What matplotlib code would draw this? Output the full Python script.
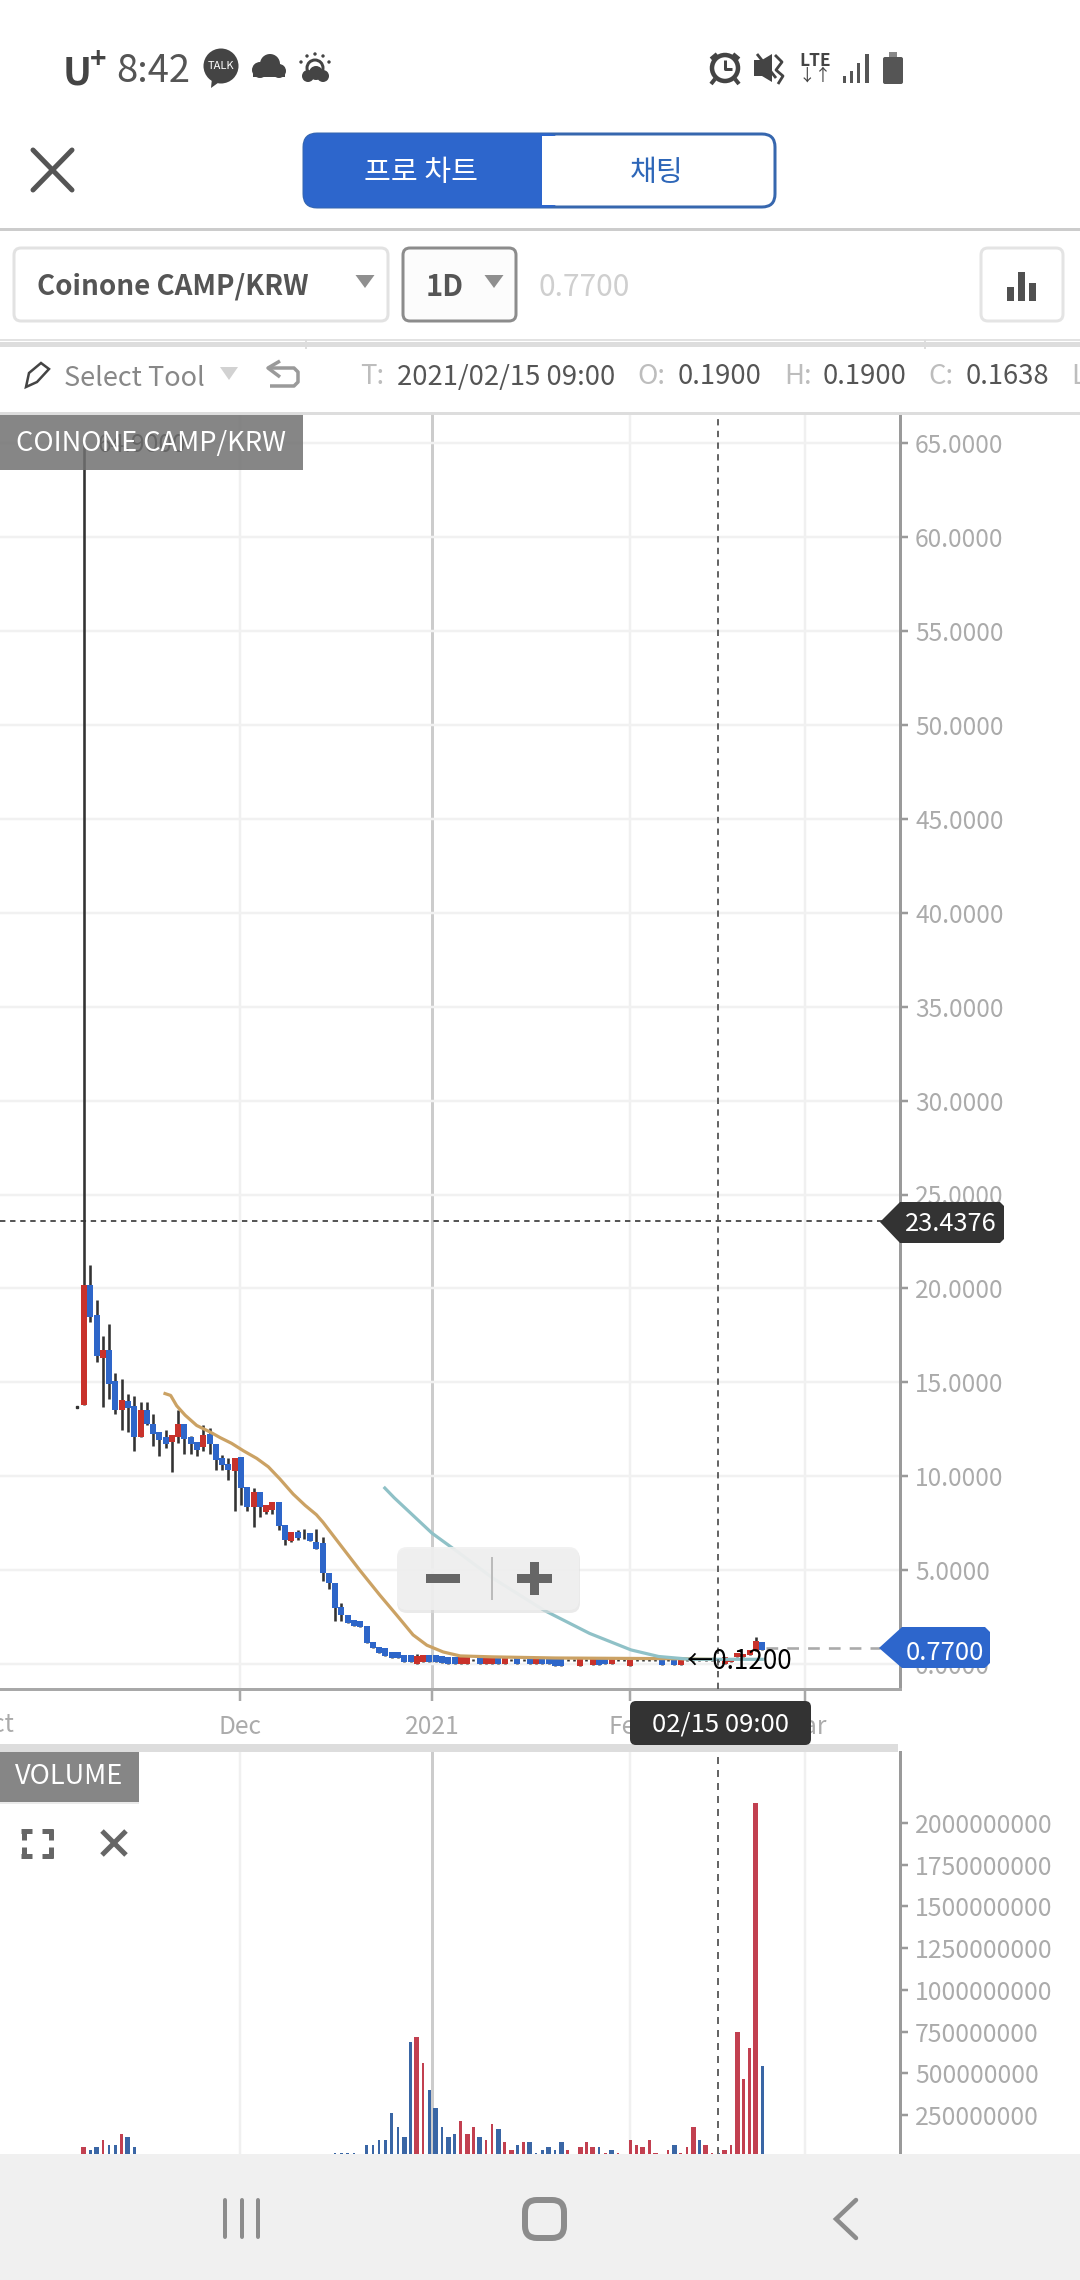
import matplotlib
matplotlib.use("Agg")
import matplotlib.pyplot as plt
from matplotlib.patches import Rectangle, FancyBboxPatch, Circle, Polygon
from matplotlib.transforms import blended_transform_factory

plt.rcParams['font.family'] = ['Noto Sans CJK KR', 'DejaVu Sans']

# ---------- data ----------
opens = [13.8,20.2,18.6,16.3,16.7,15.05,13.5,14.0,13.75,12.1,13.5,12.8,12.35,12.1,11.8,12.1,12.8,12.1,11.8,11.55,
         12.25,11.7,10.95,10.65,10.3,11.0,9.45,8.35,9.15,8.1,8.2,8.6,7.4,6.55,7.05,6.9,7.0,6.5,6.45,4.85,
         4.3,3.05,2.6,2.35,2.3,2.0,1.15,0.9,0.85,0.65,0.65,0.5,0.5,0.0,0.1,0.5,0.5,0.4,0.37,0.37,
         0.0,0.0,0.2,0.37,0.0,0.0,0.37,0.0,0.2,0.37,0.2,0.37,0.0,0.37,0.37,0.3,0.3,0.2,0.2,-0.1,
         0.2,-0.05,0.32,0.3,0.0,0.2,0.2,-0.08,0.2,0.2,0.2,0.2,0.3,0.2,0.3,-0.05,0.2,0.2,0.2,0.2,
         0.2,0.19,0.0,0.1,0.37,0.37,0.48,0.7,1.17]
closes = [20.2,18.5,16.4,16.7,14.9,13.5,14.05,13.65,12.1,13.5,12.8,12.25,11.95,11.7,12.2,12.8,12.0,11.7,11.4,12.2,
          11.7,10.85,10.6,10.35,10.95,9.35,8.35,9.15,8.35,8.45,8.6,7.35,6.6,7.05,6.7,6.9,6.55,6.15,4.85,4.3,
          3.0,2.6,2.2,2.0,1.95,1.1,0.85,0.6,0.45,0.3,0.3,0.1,0.1,0.45,0.5,0.1,0.1,0.05,0.0,0.0,
          0.37,0.37,0.2,0.0,0.37,0.37,0.0,0.37,0.2,0.0,0.2,0.0,0.37,0.0,0.0,-0.12,-0.12,0.2,0.2,0.3,
          0.2,0.32,-0.05,0.0,0.35,0.2,0.2,0.3,0.2,0.2,0.2,0.2,-0.05,0.2,-0.05,0.3,0.2,0.2,0.2,0.2,
          0.2,0.1638,0.37,0.3,0.6,0.55,0.75,1.2,0.77]
highs = [65.2,21.25,19.4,17.45,18.1,15.5,15.2,14.4,14.25,13.95,13.95,13.3,12.35,12.45,12.2,13.55,12.8,12.15,11.8,12.7,
         12.55,11.7,11.15,10.95,10.95,11.0,9.45,9.35,9.15,8.45,8.6,8.6,7.4,7.05,7.15,7.2,7.0,7.2,6.75,4.85,
         4.3,3.25,2.6,2.35,2.3,2.0,1.15,0.9,0.85,0.65,0.65,0.5,0.5,0.55,0.5,0.5,0.5,0.4,0.37,0.37,
         0.37,0.37,0.27,0.37,0.37,0.37,0.37,0.37,0.27,0.37,0.27,0.37,0.37,0.37,0.37,0.3,0.3,0.27,0.27,0.3,
         0.27,0.32,0.32,0.3,0.35,0.27,0.27,0.3,0.27,0.27,0.27,0.27,0.3,0.27,0.3,0.3,0.27,0.27,0.27,0.27,
         0.27,0.19,0.37,0.3,0.6,0.55,0.75,1.43,1.17]
lows = [13.8,18.2,16.1,13.7,14.1,13.3,12.45,12.35,11.35,12.1,12.75,11.6,11.05,11.5,10.25,11.75,11.2,11.2,11.05,11.35,
        11.2,10.35,10.35,9.8,8.15,8.45,8.15,7.3,7.85,8.0,8.0,7.15,6.35,6.5,6.6,6.65,6.55,6.15,4.4,4.0,
        2.3,2.3,2.2,2.0,1.95,1.1,0.85,0.6,0.45,0.3,0.3,0.1,0.1,0.0,0.1,0.1,0.1,0.05,0.0,0.0,
        0.0,0.0,0.15,0.0,0.0,0.0,0.0,0.0,0.15,0.0,0.15,0.0,0.0,0.0,0.0,-0.12,-0.12,0.15,0.15,-0.1,
        0.15,-0.05,-0.05,0.0,0.0,0.15,0.15,-0.08,0.15,0.15,0.15,0.15,-0.05,0.15,-0.05,-0.05,0.15,0.15,0.15,0.15,
        0.15,0.12,0.0,0.1,0.37,0.37,0.48,0.7,0.77]
first_dash_day = -1.1
first_dash_price = 13.7

ma_short_day = [12.9,13.8,14.76,16.1,17.95,20.1,21.7,23.5,25.4,27.5,29.35,31.2,33.3,35.2,37,38.05,40.8,43.9,47.1,49.8,52.4,54.6,57.2,59.9,65,75,85,95,100]
ma_short_val = [14.4,14.3,13.75,13.25,12.7,12.35,12.05,11.75,11.35,10.95,10.5,9.85,9.05,8.45,7.95,7.55,6.35,5.0,3.67,2.6,1.55,1.0,0.64,0.43,0.38,0.32,0.3,0.28,0.25]
ma_long_day = [47.9,49.4,55.4,60,65.1,73.2,80.5,87.1,91.5,96.6,108]
ma_long_val = [9.37,8.85,6.97,5.85,4.57,2.87,1.63,0.75,0.4,0.25,0.25]

volume_m = [56,40,56,100,70,70,134,118,56,0,0,0,0,0,0,0,0,0,0,0,
            0,0,0,0,0,0,0,0,0,0,0,0,0,0,0,0,0,0,0,0,
            24,24,24,24,0,70,70,100,100,260,180,118,685,717,560,400,290,180,118,134,
            212,134,180,118,100,196,164,86,40,70,86,86,24,40,56,40,86,40,0,56,
            86,56,56,24,40,24,0,100,70,56,100,24,0,40,70,24,56,180,100,70,
            24,24,40,70,747,464,654,2120,544]
volume_up_days = [0,3,6,53,54,60,61,62,64,65,67,68,70,77,79,80,81,83,85,87,88,89,90,91,93,95,96,97,99,100,102,103,104,105,106,107]
volume_wide_days = [0,2,7,51,53,56,58,61,63,66,68,71,74,76,79,81,84,89,91,94,97,99,102,104,107]

price_ticks = [0,5,10,15,20,25,30,35,40,45,50,55,60,65]
price_tick_labels = ['0.0000','5.0000','10.0000','15.0000','20.0000','25.0000','30.0000','35.0000','40.0000','45.0000','50.0000','55.0000','60.0000','65.0000']
volume_ticks_m = [250,500,750,1000,1250,1500,1750,2000]
date_ticks = [24.84,55.4,86.9,114.8]
date_labels = ['Dec','2021','Feb','Mar']
clipped_date_tick = -14.2
clipped_date_label = 'Oct'
crosshair_day = 100.9
crosshair_price = 23.6
crosshair_label = '23.4376'
last_price = 0.87
last_label = '0.7700'

# ---------- layout constants ----------
W, H = 1080, 2280
PX_DAY0, PX_PER_DAY = 84.0, 6.28
P_TOP, P_BOT = 415, 1689
V_TOP, V_BOT = 1752, 2154
AX_R = 900
PY0, PPU = 1664.0, 18.78
VY0, VPM = 2156.7, 1/5.995
GREY_T = '#ababab'
C_UP, C_DN, C_WICK = '#c8322b', '#2e66c9', '#333333'
V_UP, V_DN = '#c24050', '#3a66a5'
TICK_SIZE = 17.7
XLIM = ((0-PX_DAY0)/PX_PER_DAY, (AX_R-PX_DAY0)/PX_PER_DAY)

def lw(px):
    return px * 0.72

fig = plt.figure(figsize=(W/100, H/100), dpi=100, facecolor='white')

def make_ax(top, bot):
    a = fig.add_axes([0, 1-bot/H, AX_R/W, (bot-top)/H])
    a.set_xlim(*XLIM)
    a.set_facecolor('white')
    for s in ('left', 'top'):
        a.spines[s].set_visible(False)
    a.spines['right'].set_color('#9a9a9a')
    a.spines['right'].set_linewidth(lw(3))
    a.yaxis.tick_right()
    a.tick_params(axis='y', length=lw(8), width=lw(2.5), color='#9a9a9a', labelcolor=GREY_T,
                  labelsize=TICK_SIZE, pad=lw(7))
    return a

def vgrid(a):
    for d, lab in zip(date_ticks, date_labels):
        a.axvline(d, color='#cccccc' if lab == '2021' else '#f0f0f0', lw=lw(3 if lab == '2021' else 2.5), zorder=0.5)

# ---------- price ----------
ax = make_ax(P_TOP, P_BOT)
ax.set_ylim((PY0-P_BOT)/PPU, (PY0-P_TOP)/PPU)
ax.set_yticks(price_ticks)
ax.set_yticklabels(price_tick_labels)
ax.grid(axis='y', color='#f1f1f1', lw=lw(2.5), zorder=0.4)
ax.set_axisbelow(True)
vgrid(ax)
ax.spines['bottom'].set_color('#a8a8a8')
ax.spines['bottom'].set_linewidth(lw(3))
ax.set_xticks(date_ticks)
ax.set_xticklabels(date_labels)
ax.set_xlim(*XLIM)
ax.tick_params(axis='x', length=lw(12), width=lw(2.5), color='#a8a8a8', labelcolor=GREY_T,
               labelsize=TICK_SIZE, pad=lw(13))
ax.text(clipped_date_tick, -0.0285, clipped_date_label, transform=blended_transform_factory(ax.transData, ax.transAxes),
        fontsize=TICK_SIZE, color=GREY_T, ha='center', va='center', clip_on=False)
ax.axhline(crosshair_price, color='#444444', lw=lw(1.8), dashes=(3, 2.6), zorder=1)
ax.axvline(crosshair_day, color='#555555', lw=lw(1.8), dashes=(3.5, 3), zorder=6)

days = list(range(len(opens)))
ax.vlines(days, lows, highs, color=C_WICK, lw=lw(2.6), zorder=2)
for d, o, c in zip(days, opens, closes):
    if o != c:
        ax.bar(d, abs(c-o), bottom=min(o, c), width=0.95, color=C_UP if c > o else C_DN, zorder=3, linewidth=0)
ax.plot(first_dash_day, first_dash_price, marker='s', ms=lw(2.5), color=C_WICK, zorder=2)
ax.plot(ma_short_day, ma_short_val, color='#cba264', lw=lw(3.2), zorder=4, solid_joinstyle='round')
ax.plot(ma_long_day, ma_long_val, color='#8fc1c7', lw=lw(3.2), zorder=4.2, solid_joinstyle='round')
ax.text(95.8, 0.12, '←0.1200', fontsize=18.9, color='black', va='center', ha='left', zorder=7, clip_on=False)
ax.text(2.2, 64.9, '64.9000', fontsize=TICK_SIZE, color='#222222', va='center', ha='left', zorder=7)
ax.plot([108.6, (880-PX_DAY0)/PX_PER_DAY], [last_price]*2, color='#aaaaaa', lw=lw(2.6), dashes=(4.5, 3.5), zorder=5)

# ---------- volume ----------
vx = make_ax(V_TOP, V_BOT)
vx.set_ylim((VY0-V_BOT)/VPM, (VY0-V_TOP)/VPM)
vx.set_yticks(volume_ticks_m)
vx.set_yticklabels([f'{v*1000000}' for v in volume_ticks_m])
vx.tick_params(axis='y', labelsize=17.9)
vx.spines['bottom'].set_visible(False)
vx.set_xticks([])
vgrid(vx)
vx.axvline(crosshair_day, color='#666666', lw=lw(2), dashes=(3.5, 3), zorder=6)
for d, v in enumerate(volume_m):
    if v > 0:
        wide = d in volume_wide_days
        vx.bar(d, v, width=(5.0 if wide else 2.6)/PX_PER_DAY, color=V_UP if d in volume_up_days else V_DN, zorder=3, linewidth=0)
vx.set_xlim(*XLIM)

# ---------- screen chrome overlay ----------
ov = fig.add_axes([0, 0, 1, 1], zorder=10)
ov.set_xlim(0, W)
ov.set_ylim(H, 0)
ov.axis('off')
ov.patch.set_alpha(0)

def T(x, y, s, size, color='#555555', ha='left', va='center', **k):
    return ov.text(x, y, s, fontsize=size, color=color, ha=ha, va=va, **k)

def R(x0, y0, x1, y1, fc, **k):
    ov.add_patch(Rectangle((x0, y0), x1-x0, y1-y0, facecolor=fc, edgecolor='none', **k))

def RR(x0, y0, x1, y1, fc='white', ec='none', r=6, px=0, **k):
    ov.add_patch(FancyBboxPatch((x0+r, y0+r), x1-x0-2*r, y1-y0-2*r, boxstyle=f'round,pad={r},rounding_size={r}',
                                facecolor=fc, edgecolor=ec, linewidth=lw(px), mutation_aspect=1, **k))

def L(xs, ys, c, px, **k):
    ov.plot(xs, ys, color=c, lw=lw(px), solid_capstyle=k.pop('cap', 'butt'), **k)

def tri(x, y0, y1, w, c):
    ov.add_patch(Polygon([(x-w, y0), (x+w, y0), (x, y1)], facecolor=c, edgecolor='none'))

# top white area above chart
R(0, 0, W, P_TOP, 'white')
# status bar
T(63, 73, 'U', 28, '#444444', fontweight='bold')
T(90, 60, '+', 20, '#444444', fontweight='bold')
T(116, 71, '8:42', 27.5, '#555555')
ov.add_patch(Circle((221, 66), 17.5, fc='#444444', ec='none'))
ov.add_patch(Polygon([(212, 78), (222, 80), (211, 88)], fc='#444444', ec='none'))
T(221, 66, 'TALK', 8, 'white', ha='center')
for cx, cy, r in ((260, 70, 8), (270, 64, 10), (279, 71, 7)):
    ov.add_patch(Circle((cx, cy), r, fc='#444444', ec='none'))
R(253, 70, 285, 77, '#444444')
ov.add_patch(Circle((315, 68), 8, fc='white', ec='#444444', lw=lw(3)))
for dx, dy in ((-14, -6), (-8, -12), (0, -14), (8, -12), (14, -6)):
    ov.add_patch(Circle((315+dx, 68+dy), 1.7, fc='#444444', ec='none'))
for cx, cy, r in ((308, 76, 6), (316, 73, 7), (323, 76, 6)):
    ov.add_patch(Circle((cx, cy), r, fc='#444444', ec='none'))
ov.add_patch(Circle((725, 68), 13, fc='white', ec='#444444', lw=lw(4.5)))
L([725, 725, 732], [60, 69, 69], '#444444', 3)
L([711, 717], [59, 54], '#444444', 4)
L([739, 733], [59, 54], '#444444', 4)
L([715, 711], [79, 84], '#444444', 4)
L([735, 739], [79, 84], '#444444', 4)
ov.add_patch(Polygon([(754, 60), (762, 60), (772, 54), (772, 82), (762, 76), (754, 76)], fc='#444444', ec='none'))
L([775, 782, 776, 783, 778], [55, 62, 70, 76, 84], '#444444', 2.8)
L([757, 776], [54, 78], '#444444', 2.8)
T(815, 61, 'LTE', 12.5, '#444444', ha='center', fontweight='bold')
T(815, 76, '↓↑', 12, '#444444', ha='center')
for x, y0, w_ in ((843, 76, 2), (850, 71, 2), (857, 63, 2), (865, 54, 3)):
    R(x, y0, x+w_+1, 83, '#555555')
R(889, 52, 897, 58, '#888888')
RR(883, 57, 903, 84, fc='#555555', r=2)

# close icon
L([33, 72], [150, 190], '#555555', 5, cap='round')
L([72, 33], [150, 190], '#555555', 5, cap='round')

# tab switch
RR(304, 134, 775, 207, fc='white', ec='#3767ae', r=13, px=3)
RR(304, 134, 560, 207, fc='#2d66cc', ec='#2d66cc', r=13, px=1)
R(542, 136, 562, 205, 'white')
T(421, 173, '프로 차트', 21, 'white', ha='center')
T(657, 173, '채팅', 21, '#2d66b8', ha='center')
R(0, 228, W, 231, '#cccccc')

# selector row
RR(14, 248, 388, 321, fc='white', ec='#e2e2e2', r=7, px=3)
T(37, 287, 'Coinone CAMP/KRW', 20, '#555555', fontweight='bold')
tri(365, 275, 288, 9.5, '#8f8f8f')
RR(403, 248, 516, 321, fc='#fcfcfc', ec='#8c8c8c', r=7, px=3)
T(426, 287, '1D', 21, '#555555', fontweight='bold')
tri(494, 275, 288, 9.5, '#8f8f8f')
T(539, 288, '0.7700', 21.5, '#cfcfcf')
RR(981, 248, 1063, 321, fc='white', ec='#e4e4e4', r=7, px=3)
R(1007, 287, 1014, 301, '#505050')
R(1018, 272, 1025, 301, '#505050')
R(1029, 283, 1036, 301, '#505050')
R(0, 339, W, 341, '#e2e2e2')
R(0, 342, W, 347, '#dddddd')
R(305, 340, 307, 349, '#dddddd')
R(924, 340, 926, 349, '#dddddd')

# toolbar row
ov.add_patch(Polygon([(26, 387), (29, 373), (41, 363), (49, 369), (37, 382)], fc='white', ec='#444444', lw=lw(2.5)))
T(64, 379, 'Select Tool', 19.5, '#888888')
tri(229, 367, 380, 9, '#d2d2d2')
L([270, 294, 298, 298, 294, 270], [368, 368, 372, 382, 386, 386], '#9a9a9a', 3.5)
L([280, 268, 280], [361, 368, 377], '#9a9a9a', 3.5)
ROW_Y = 377
T(360, ROW_Y, 'T:', 19.8, '#bdbdbd')
T(397, ROW_Y, '2021/02/15 09:00', 19.8, '#555555')
T(637, ROW_Y, 'O:', 19.8, '#bdbdbd')
T(678, ROW_Y, '0.1900', 19.8, '#555555')
T(784, ROW_Y, 'H:', 19.8, '#bdbdbd')
T(823, ROW_Y, '0.1900', 19.8, '#555555')
T(928, ROW_Y, 'C:', 19.8, '#bdbdbd')
T(966, ROW_Y, '0.1638', 19.8, '#555555')
T(1071, ROW_Y, 'L', 19.8, '#bdbdbd')
R(0, 412, W, 415, '#dddddd')

# chart label
R(0, 415, 303, 470, '#717171', alpha=0.85)
T(16, 444, 'COINONE CAMP/KRW', 19.6, 'white')

# zoom control
RR(397, 1549, 580, 1613, fc='#dddddd', r=10, alpha=0.6)
RR(397, 1547, 579, 1610, fc='#f0f0f0', r=10, alpha=0.88)
R(426, 1574, 460, 1583, '#666666')
R(517, 1574, 552, 1583, '#666666')
R(530, 1562, 539, 1595, '#666666')
R(491, 1557, 493, 1600, '#bbbbbb')

# right tags
ov.add_patch(Polygon([(880, 1222), (900, 1202), (1000, 1202), (1004, 1206), (1004, 1239), (1000, 1243), (900, 1243)], fc='#333333', ec='none'))
T(951, 1224, crosshair_label, 18.3, 'white', ha='center')
ov.add_patch(Polygon([(879, 1648), (902, 1627), (985, 1627), (990, 1632), (990, 1663), (985, 1668), (902, 1668)], fc='#2d66cc', ec='none'))
T(945, 1653, last_label, 18.5, 'white', ha='center')

# date tooltip and divider
R(0, 1744, 898, 1752, '#dddddd')
RR(630, 1701, 811, 1745, fc='#333333', r=6)
T(720, 1724, '02/15 09:00', 18.5, 'white', ha='center')

# volume label
R(0, 1754, 139, 1804, '#dddddd', alpha=0.6)
R(0, 1752, 139, 1802, '#868686')
T(15, 1776, 'VOLUME', 19.6, 'white')
for x0, x1, y0, y1 in ((21, 32, 1831, 1831), (42, 53, 1831, 1831), (21, 32, 1856, 1856), (42, 53, 1856, 1856)):
    L([x0, x1], [y0, y1], '#666666', 5)
L([23.5, 23.5], [1829, 1840], '#666666', 5)
L([50.5, 50.5], [1829, 1840], '#666666', 5)
L([23.5, 23.5], [1847, 1858], '#666666', 5)
L([50.5, 50.5], [1847, 1858], '#666666', 5)
L([102, 126], [1831, 1855], '#666666', 5)
L([126, 102], [1831, 1855], '#666666', 5)

# nav bar
R(0, V_BOT, W, H, '#f0f0f0')
for x in (225, 242, 258):
    L([x, x], [2200, 2237], '#8c8c8c', 4, cap='round')
RR(525, 2200, 564, 2238, fc='none', ec='#8c8c8c', r=12, px=6)
L([856, 836, 856], [2200, 2219, 2238], '#8c8c8c', 4.5, cap='round', solid_joinstyle='miter')

fig.savefig('out.png', dpi=100, facecolor='white')
